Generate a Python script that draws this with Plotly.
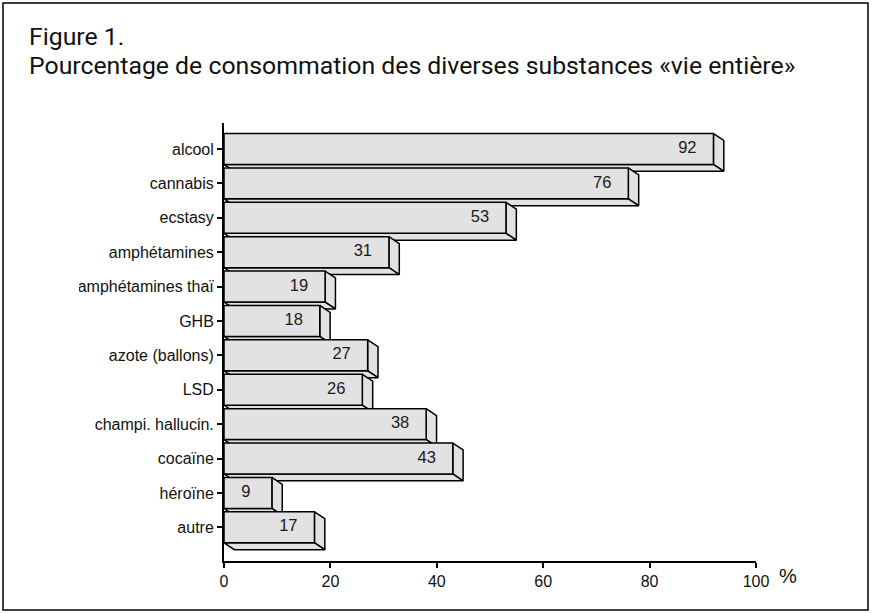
import plotly.graph_objects as go

categories = ["alcool", "cannabis", "ecstasy", "amphétamines", "amphétamines thaï",
              "GHB", "azote (ballons)", "LSD", "champi. hallucin.", "cocaïne",
              "héroïne", "autre"]
values = [92, 76, 53, 31, 19, 18, 27, 26, 38, 43, 9, 17]
x_ticks = [0, 20, 40, 60, 80, 100]
title_line1 = "Figure 1."
title_line2 = "Pourcentage de consommation des diverses substances «vie entière»"

W, H = 872, 613
L, R, T, B = 224, 116, 123, 52
pw, ph = W - L - R, H - T - B

HALF = 0.45     # half height of front face (category units)
DX = 1.95       # depth in x units
DY = 0.2        # depth in category units
FILL = "#e2e2e2"
LINE = dict(color="black", width=1.5)
FONT = "Liberation Sans"

fig = go.Figure()
for i, (c, v) in enumerate(zip(categories, values)):
    top, bot = i - HALF, i + HALF
    # side face
    fig.add_trace(go.Scatter(
        x=[v, v + DX, v + DX, v, v], y=[top, top + DY, bot + DY, bot, top],
        fill="toself", fillcolor=FILL, mode="lines", line=LINE,
        hoverinfo="skip", showlegend=False))
    # bottom face
    fig.add_trace(go.Scatter(
        x=[0, v, v + DX, DX, 0], y=[bot, bot, bot + DY, bot + DY, bot],
        fill="toself", fillcolor=FILL, mode="lines", line=LINE,
        hoverinfo="skip", showlegend=False))
    # front face
    fig.add_trace(go.Scatter(
        x=[0, v, v, 0, 0], y=[top, top, bot, bot, top],
        fill="toself", fillcolor=FILL, mode="lines", line=LINE,
        hoverinfo="skip", showlegend=False))

# value labels
fig.add_trace(go.Scatter(
    x=[v - 4.9 for v in values], y=list(range(len(values))),
    mode="text", text=[str(v) for v in values],
    textfont=dict(family=FONT, size=16.5, color="#1a1a1a"),
    textposition="middle center", hoverinfo="skip", showlegend=False,
    cliponaxis=False))

fig.update_xaxes(
    range=[0, 100], tickvals=x_ticks, ticktext=[str(t) for t in x_ticks],
    showline=True, linecolor="black", linewidth=2, ticks="outside",
    ticklen=5, tickwidth=1.5, tickcolor="black", showgrid=False, zeroline=False,
    tickfont=dict(family=FONT, size=16, color="#111"))
fig.update_yaxes(
    range=[len(categories) - 0.02, -0.756],
    tickvals=list(range(len(categories))), ticktext=categories,
    showline=True, linecolor="black", linewidth=2, ticks="outside",
    ticklen=5, tickwidth=1.5, tickcolor="black", showgrid=False, zeroline=False,
    tickfont=dict(family=FONT, size=16, color="#111"))

def px_x(p):
    return (p - L) / pw

def px_y(p):
    return 1 - (p - T) / ph

fig.add_annotation(text=title_line1, xref="paper", yref="paper",
                   x=px_x(27), y=px_y(36), xanchor="left", yanchor="middle",
                   showarrow=False,
                   font=dict(family="Roboto", size=24.8, color="#111"))
fig.add_annotation(text=title_line2, xref="paper", yref="paper",
                   x=px_x(27), y=px_y(65), xanchor="left", yanchor="middle",
                   showarrow=False,
                   font=dict(family="Roboto", size=24.8, color="#111"))
fig.add_annotation(text="%", xref="paper", yref="paper",
                   x=px_x(788), y=px_y(576), xanchor="center", yanchor="middle",
                   showarrow=False,
                   font=dict(family=FONT, size=20, color="#111"))

# mask reproducing the cropped left edge of the original
fig.add_shape(type="rect", xref="paper", yref="paper",
              x0=px_x(5), x1=px_x(79), y0=px_y(300), y1=px_y(278),
              line=dict(width=0), fillcolor="white", layer="above")

# outer frame
fig.add_shape(type="rect", xref="paper", yref="paper",
              x0=px_x(3), x1=px_x(868), y0=px_y(610), y1=px_y(3),
              line=dict(color="black", width=1.5), fillcolor="rgba(0,0,0,0)",
              layer="above")

fig.update_layout(
    width=W, height=H, margin=dict(l=L, r=R, t=T, b=B),
    paper_bgcolor="white", plot_bgcolor="white")

fig.write_html("out.html",
               config={"displayModeBar": False},
               post_script="document.body.style.margin='0';")
